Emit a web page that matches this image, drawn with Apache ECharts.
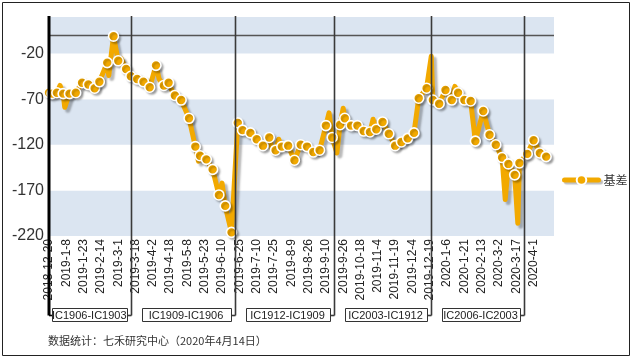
<!DOCTYPE html>
<html><head><meta charset="utf-8">
<script src="https://cdn.jsdelivr.net/npm/echarts@6/dist/echarts.min.js"></script>
<style>html,body{margin:0;padding:0;background:#fff}#c{width:632px;height:359px}</style>
</head><body><div id="c"></div>
<script>
// x tick labels (every 11 trading days, starting at day 0)
const tickLabels = ['2018-12-20','2019-1-8','2019-1-23','2019-2-14','2019-3-1','2019-3-18','2019-4-2','2019-4-18','2019-5-8','2019-5-23','2019-6-10','2019-6-25','2019-7-10','2019-7-25','2019-8-9','2019-8-26','2019-9-10','2019-9-26','2019-10-18','2019-11-4','2019-11-19','2019-12-4','2019-12-19','2020-1-6','2020-1-21','2020-2-13','2020-3-2','2020-3-17','2020-4-1'];
const labelStep = 11;
// trading-day index of each read point
const dayIdx = [0,2,5,7,9,10,13,17,21,25,29,32,37,38,41,44,46,49,52,
  56,60,64,68,70,73,76,78,80,84,89,93,95,96,100,104,108,110,112,116,
  120,123,128,132,136,140,142,144,146,148,152,156,160,164,168,172,176,178,180,
  183,185,187,188,192,196,200,204,206,208,212,216,220,224,228,232,235,240,243,
  244,248,252,256,258,260,264,268,271,276,280,284,288,290,292,296,298,299,304,308,312,316];
// basis values
const basis = [-63,-64,-63,-55,-64,-79,-64,-63,-52,-54,-58,-51,-30,-44,-1,-28,-26,-37,-45,
  -48,-51,-57,-33,-48,-55,-52,-60,-66,-71,-91,-122,-138,-132,-136,-147,-175,-162,-187,-216,
  -96,-104,-107,-114,-121,-112,-126,-126,-114,-122,-121,-137,-120,-122,-128,-126,-99,-85,-112,
  -129,-98,-80,-91,-99,-99,-105,-106,-92,-103,-95,-108,-121,-117,-113,-107,-69,-58,-23,
  -71,-75,-60,-71,-56,-63,-71,-72,-116,-83,-109,-120,-134,-180,-141,-153,-206,-140,-130,-115,-129,-133];
// points drawn without a marker (spikes)
const unmarkedIdx = [7,10,38,46,70,78,95,110,142,146,178,183,187,206,243,258,290,298];
// contract roll days and contract pair labels
const rollIdx = [52,118,181,243,302];
const contractLabels = ['IC1906-IC1903','IC1909-IC1906','IC1912-IC1909','IC2003-IC1912','IC2006-IC2003'];
const seriesName = '基差';
const sourceNote = '数据统计：七禾研究中心（2020年4月14日）';

const ORANGE = '#F2A900';
const lineData = dayIdx.map((d, k) => unmarkedIdx.includes(d)
  ? {value: [d, basis[k]], symbol: 'none'}
  : {value: [d, basis[k]]});

const chart = echarts.init(document.getElementById('c'), null, {renderer: 'canvas'});
chart.setOption({
  animation: false,
  grid: {left: 49, top: 17, right: 78, bottom: 123, containLabel: false, outerBoundsMode: 'none'},
  legend: {left: 558, top: 170, padding: 4, itemWidth: 34, itemHeight: 12, itemGap: 4, data: [seriesName],
    lineStyle: {width: 5, cap: 'round', shadowColor: 'rgba(0,0,0,0.25)', shadowOffsetX: 2, shadowOffsetY: 2, shadowBlur: 1},
    textStyle: {fontSize: 12, color: '#333', fontFamily: 'Noto Sans CJK SC', padding: [0, 0, 0, 0]}},
  xAxis: {type: 'value', min: 0, max: 321, interval: labelStep,
    axisLine: {show: false}, axisTick: {show: false}, splitLine: {show: false},
    axisLabel: {rotate: 90, margin: 3, fontSize: 12, color: '#222', fontFamily: 'Liberation Sans',
      showMaxLabel: false, showMinLabel: true,
      formatter: v => (v % labelStep === 0 && tickLabels[v / labelStep]) ? tickLabels[v / labelStep] : ''}},
  yAxis: {type: 'value', min: -220, max: 20, interval: 50,
    axisLine: {show: false}, axisTick: {show: false}, splitLine: {show: false},
    splitArea: {show: true, areaStyle: {color: ['#DBE5F1', '#ffffff']}},
    axisLabel: {fontSize: 16, color: '#333', margin: 5, showMaxLabel: false, fontFamily: 'Liberation Sans'}},
  series: [{
    name: seriesName, type: 'line', data: lineData, z: 3,
    symbol: 'circle', symbolSize: 10, showAllSymbol: true,
    lineStyle: {color: ORANGE, width: 5, cap: 'round', join: 'round',
      shadowColor: 'rgba(0,0,0,0.28)', shadowOffsetX: 3, shadowOffsetY: 3, shadowBlur: 2},
    itemStyle: {color: ORANGE, borderColor: '#fff', borderWidth: 1.6,
      shadowColor: 'rgba(0,0,0,0.25)', shadowOffsetX: 2, shadowOffsetY: 2, shadowBlur: 2},
    emphasis: {disabled: true}
  }]
});

// decorations positioned through the axes
const ax = Math.round(chart.convertToPixel({xAxisIndex: 0}, 0));
const y0 = Math.round(chart.convertToPixel({yAxisIndex: 0}, 0)) + 0.5;
const gridTop = Math.round(chart.convertToPixel({yAxisIndex: 0}, 20));
const gridRight = Math.round(chart.convertToPixel({xAxisIndex: 0}, 321));
const lineTop = gridTop - 1, lineBottom = 315.5;
const boxTop = 308, boxH = 13;
const els = [];
els.push({type: 'line', z: 1, shape: {x1: ax, y1: y0, x2: gridRight, y2: y0},
  style: {stroke: '#555', lineWidth: 1.5}});
els.push({type: 'line', z: 10, shape: {x1: ax, y1: lineTop, x2: ax, y2: lineBottom},
  style: {stroke: '#000', lineWidth: 3}});
let prev = null;
rollIdx.forEach((r, k) => {
  const px = Math.round(chart.convertToPixel({xAxisIndex: 0}, r)) + 0.5;
  els.push({type: 'line', z: 10, shape: {x1: px, y1: lineTop, x2: px, y2: lineBottom},
    style: {stroke: '#3a3a3a', lineWidth: 1.6}});
  const left = prev === null ? ax + 3 : prev + 10;
  const right = px - 5;
  els.push({type: 'line', z: 10, shape: {x1: right, y1: lineBottom, x2: px, y2: lineBottom},
    style: {stroke: '#3a3a3a', lineWidth: 1.6}});
  if (prev === null) {
    els.push({type: 'line', z: 10, shape: {x1: ax, y1: lineBottom, x2: left, y2: lineBottom},
      style: {stroke: '#000', lineWidth: 1.6}});
  }
  els.push({type: 'rect', z: 11, shape: {x: Math.round(left) + 0.5, y: boxTop + 0.5, width: Math.round(right - left), height: boxH},
    style: {fill: '#fff', stroke: '#333', lineWidth: 1}});
  els.push({type: 'text', z: 12, x: (left + right) / 2, y: boxTop + boxH / 2 + 1,
    style: {text: contractLabels[k], fill: '#222', font: '11px "Liberation Sans"', align: 'center', verticalAlign: 'middle'}});
  prev = px;
});
els.push({type: 'text', z: 12, x: 48, y: 341,
  style: {text: sourceNote, fill: '#333', font: '11px "Noto Sans CJK SC"', align: 'left', verticalAlign: 'middle'}});
els.push({type: 'rect', z: 12, shape: {x: 2.5, y: 2.5, width: 627, height: 353},
  style: {fill: 'none', stroke: '#222', lineWidth: 1}});
chart.setOption({graphic: {elements: els}});
</script>
</body></html>
